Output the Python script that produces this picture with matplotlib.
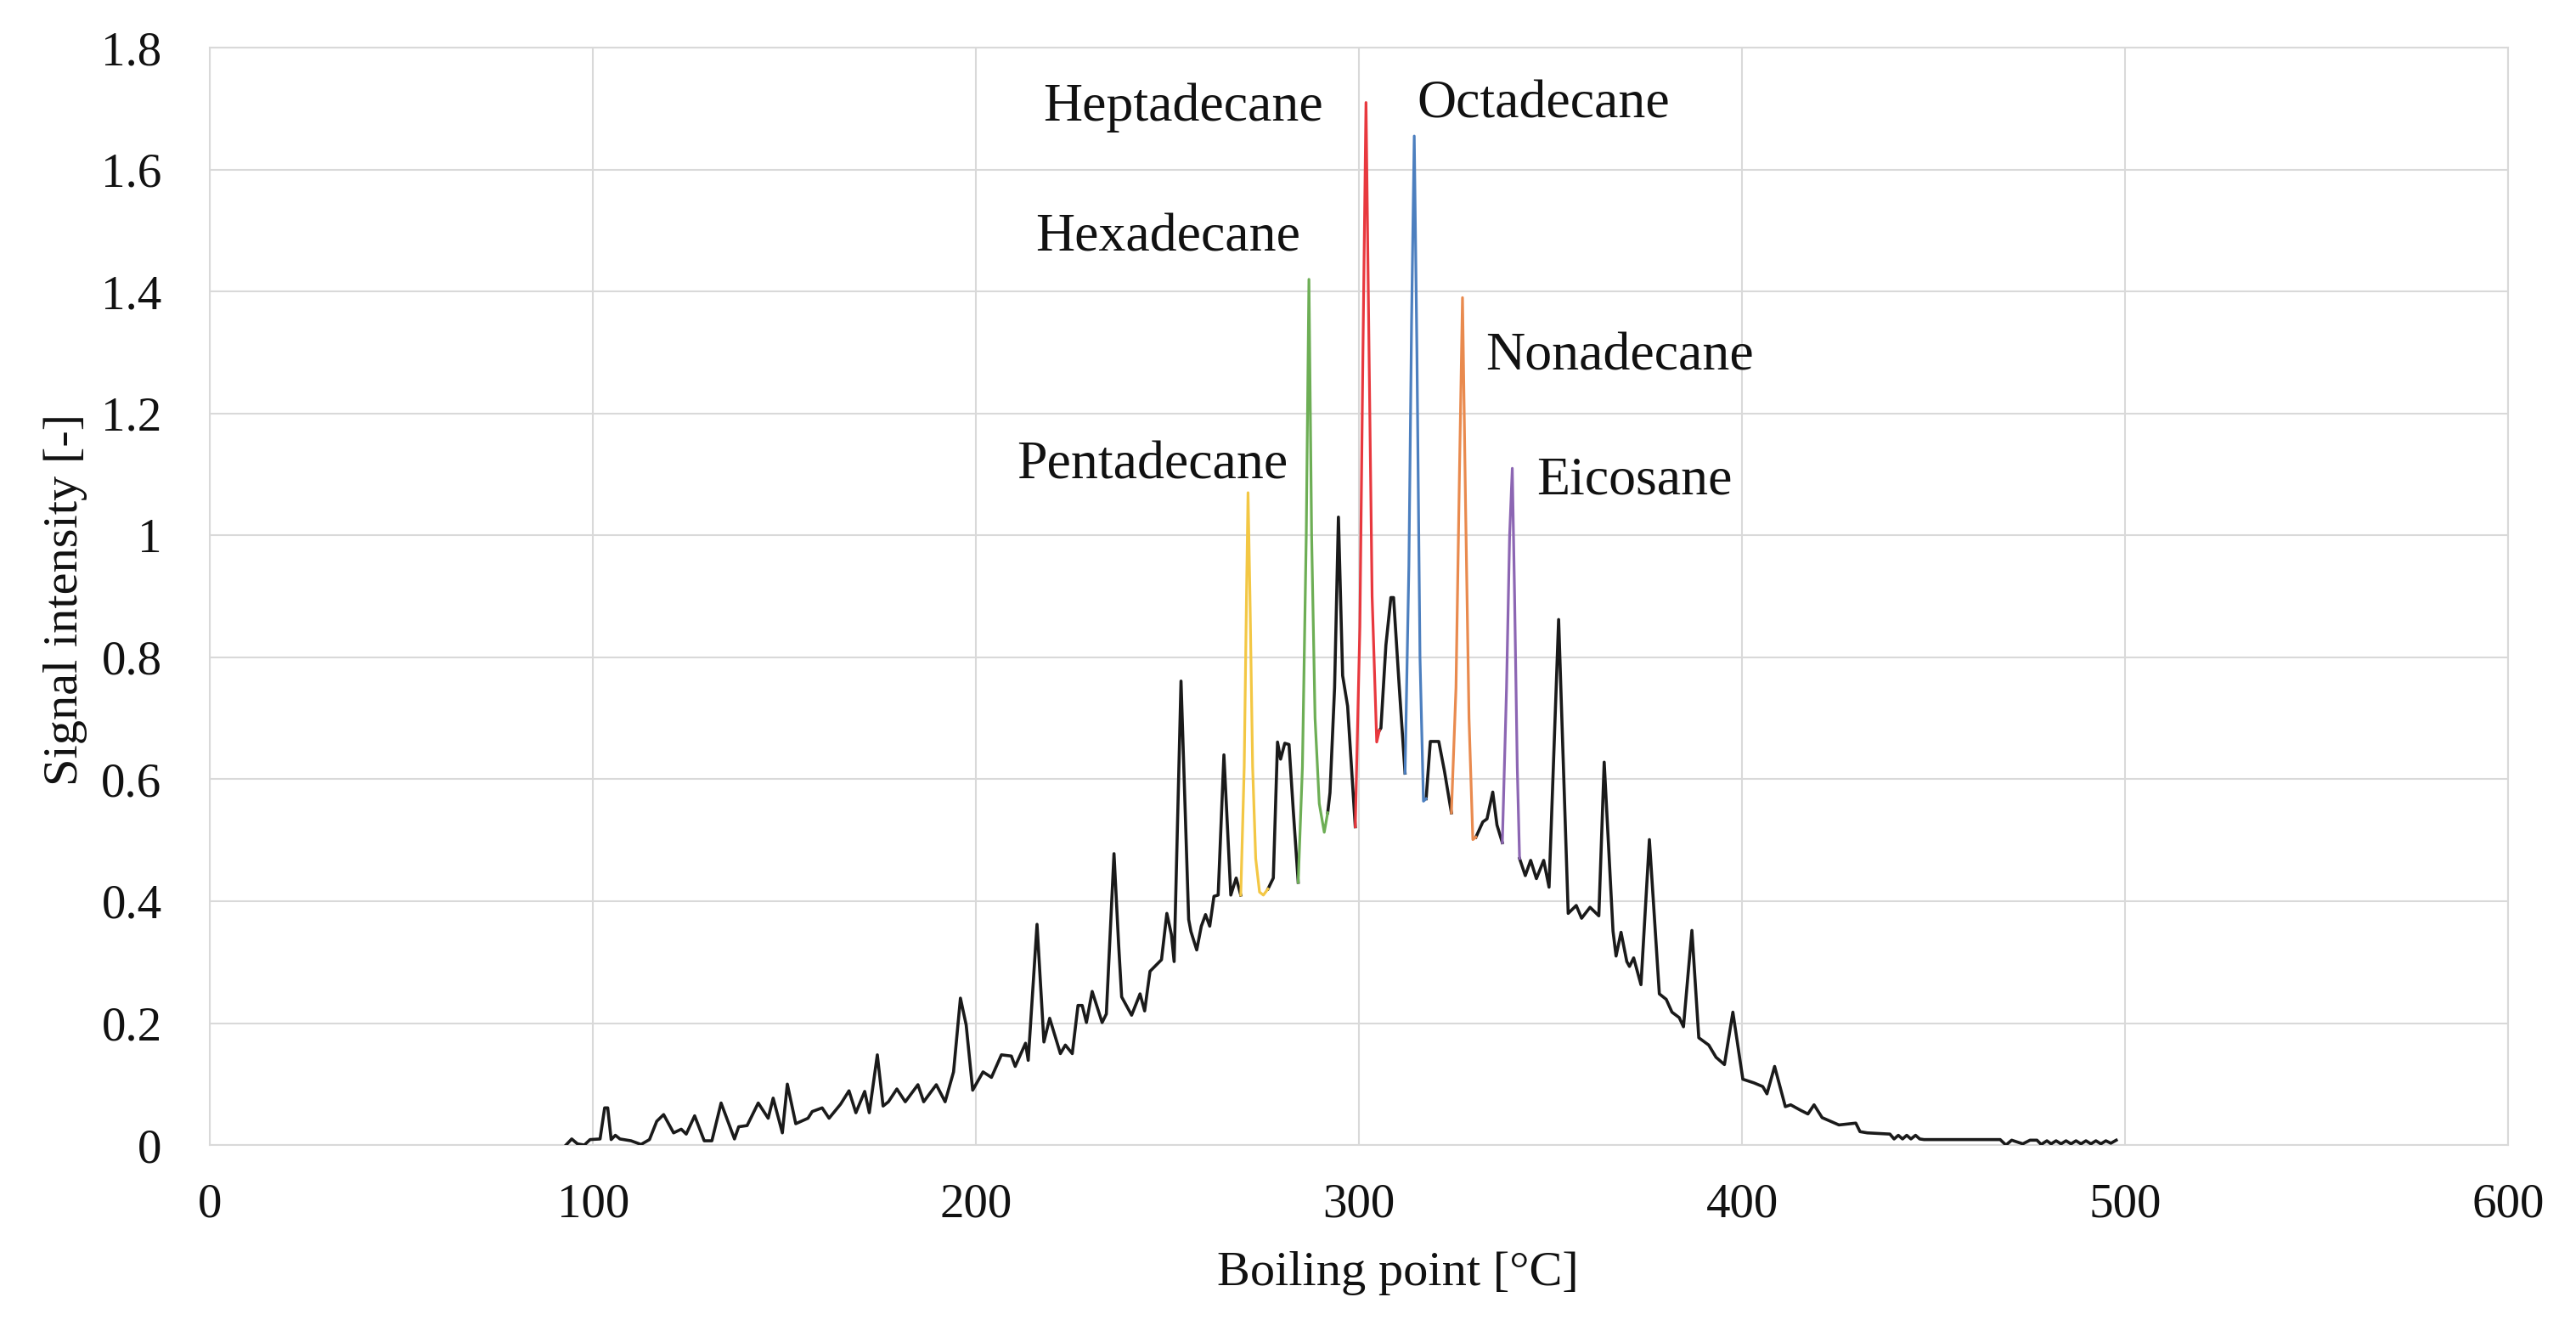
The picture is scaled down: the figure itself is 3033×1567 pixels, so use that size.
import numpy as np
import matplotlib
matplotlib.use("Agg")
from matplotlib import pyplot as plt

plt.rcParams['font.family'] = ['Liberation Serif', 'DejaVu Serif']

# ---------------------------- data ----------------------------
boiling_point = [
    92.9, 94.4, 95.9, 97.7, 99.2, 101.8, 103.0, 103.8, 104.7, 105.8, 107.0, 109.9, 112.5, 114.7,
    116.6, 118.4, 121.0, 123.0, 124.3, 126.5, 129.0, 131.0, 133.4, 136.9, 138.0, 140.2, 143.1,
    145.7, 147.0, 149.4, 150.7, 152.9, 156.1, 157.2, 159.8, 161.6, 164.6, 166.8, 168.6, 170.9,
    172.1, 174.2, 175.7, 177.1, 179.3, 181.5, 184.8, 186.3, 189.6, 191.9, 194.1, 195.9, 197.4,
    199.1, 201.8, 204.0, 206.6, 209.2, 210.2, 212.9, 213.6, 215.9, 217.7, 219.2, 222.0, 223.3,
    225.1, 226.6, 227.7, 228.8, 230.3, 232.9, 234.0, 236.0, 237.2, 238.0, 240.6, 242.8, 244.0,
    245.4, 248.4, 249.8, 251.0, 251.7, 253.5, 255.5, 256.1, 257.6, 258.8, 259.9, 261.0, 262.1,
    263.2, 264.7, 266.5, 267.9, 269.1,
    # pentadecane
    270.0, 270.6, 271.0, 271.5, 272.2, 273.0, 274.0, 275.0, 276.2,
    277.6, 278.7, 279.5, 280.6, 281.7, 282.8, 284.1,
    # hexadecane
    285.2, 286.2, 286.9, 287.6, 288.5, 289.6, 290.9, 291.8,
    292.4, 293.6, 294.6, 295.7, 297.0, 299.0,
    # heptadecane
    300.2, 301.0, 301.8, 302.6, 303.4, 304.6, 305.3,
    305.7, 307.0, 308.3, 309.0, 310.5, 312.0,
    # octadecane
    313.0, 313.7, 314.4, 315.1, 315.9, 316.8, 317.5,
    318.6, 320.8, 322.3, 324.1,
    # nonadecane
    325.3, 326.2, 327.0, 327.8, 328.7, 329.7, 330.5,
    332.3, 333.4, 334.9, 336.0, 337.4,
    # eicosane
    338.5, 339.3, 340.0, 340.6, 341.3, 341.9,
    343.4, 344.8, 346.3, 348.2, 349.6, 352.1, 354.6, 356.7, 358.1, 360.3, 362.6, 364.0,
    366.3, 367.1, 368.4, 369.9, 370.6, 371.7, 373.6, 375.8, 378.4, 380.2, 381.7, 383.6,
    384.7, 386.9, 388.7, 391.3, 393.2, 395.4, 397.6, 400.2, 403.1, 405.4, 406.5, 408.5,
    411.3, 412.7, 415.3, 417.2, 418.8, 420.9, 425.3, 429.7, 430.8, 432.7, 438.6, 439.7,
    440.8, 441.9, 443.0, 444.1, 445.3, 446.4, 447.5, 467.4, 468.9, 470.4, 473.3, 475.2,
    477.0, 478.1, 479.6, 480.7, 482.0, 483.3, 484.6, 485.9, 487.2, 488.5, 489.8, 491.1,
    492.4, 493.7, 495.0, 496.3, 497.7,
]

signal = [
    0.000, 0.010, 0.002, 0.000, 0.009, 0.010, 0.061, 0.061, 0.009, 0.016, 0.010, 0.007, 0.001, 0.009,
    0.039, 0.050, 0.020, 0.026, 0.018, 0.048, 0.007, 0.007, 0.069, 0.010, 0.030, 0.032, 0.069,
    0.044, 0.077, 0.020, 0.100, 0.035, 0.044, 0.055, 0.061, 0.044, 0.067, 0.089, 0.053, 0.088,
    0.053, 0.148, 0.064, 0.071, 0.092, 0.071, 0.099, 0.071, 0.099, 0.071, 0.120, 0.241, 0.197,
    0.090, 0.120, 0.111, 0.148, 0.146, 0.129, 0.167, 0.139, 0.362, 0.169, 0.208, 0.150, 0.164,
    0.150, 0.229, 0.229, 0.201, 0.252, 0.201, 0.215, 0.478, 0.330, 0.243, 0.213, 0.248, 0.220,
    0.285, 0.304, 0.380, 0.345, 0.301, 0.761, 0.370, 0.350, 0.320, 0.359, 0.378, 0.359, 0.408,
    0.410, 0.640, 0.410, 0.438, 0.410,
    0.620, 0.900, 1.070, 0.900, 0.620, 0.470, 0.415, 0.410, 0.420,
    0.438, 0.661, 0.633, 0.659, 0.657, 0.550, 0.431,
    0.620, 1.000, 1.420, 1.000, 0.700, 0.560, 0.513, 0.545,
    0.578, 0.750, 1.030, 0.770, 0.720, 0.522,
    0.850, 1.300, 1.710, 1.300, 0.900, 0.661, 0.680,
    0.684, 0.820, 0.898, 0.898, 0.750, 0.610,
    0.950, 1.350, 1.655, 1.300, 0.800, 0.564, 0.568,
    0.662, 0.662, 0.613, 0.545,
    0.750, 1.100, 1.390, 1.050, 0.700, 0.501, 0.505,
    0.530, 0.535, 0.579, 0.525, 0.496,
    0.750, 1.000, 1.110, 0.900, 0.620, 0.470,
    0.442, 0.467, 0.437, 0.467, 0.423, 0.862, 0.380, 0.393, 0.372, 0.390, 0.376, 0.628,
    0.351, 0.310, 0.349, 0.301, 0.293, 0.307, 0.263, 0.501, 0.248, 0.239, 0.218, 0.209,
    0.194, 0.352, 0.176, 0.164, 0.144, 0.132, 0.218, 0.108, 0.102, 0.096, 0.084, 0.129,
    0.063, 0.066, 0.057, 0.051, 0.066, 0.045, 0.033, 0.036, 0.022, 0.020, 0.018, 0.010,
    0.016, 0.010, 0.016, 0.010, 0.016, 0.010, 0.009, 0.009, 0.000, 0.008, 0.002, 0.008,
    0.008, 0.001, 0.007, 0.002, 0.007, 0.002, 0.007, 0.002, 0.007, 0.002, 0.007, 0.002,
    0.007, 0.002, 0.007, 0.003, 0.008,
]

peak_names = ['Pentadecane', 'Hexadecane', 'Heptadecane', 'Octadecane', 'Nonadecane', 'Eicosane']
peak_start = [269.1, 284.1, 299.0, 312.0, 324.1, 337.4]
peak_end = [276.2, 291.8, 305.3, 317.5, 330.5, 341.9]

# ---------------------------- styling / layout ----------------------------
peak_colors = ['#F3C744', '#6DAE55', '#E8383E', '#4C7FBF', '#E98A4E', '#8C66B3']
label_pos = [(281.4, 1.093, 'right'), (284.6, 1.466, 'right'), (290.6, 1.680, 'right'),
             (315.2, 1.685, 'left'), (333.0, 1.272, 'left'), (346.3, 1.068, 'left')]

x = np.array(boiling_point)
y = np.array(signal)

fig = plt.figure(figsize=(30.33, 15.67), dpi=100)
ax = fig.add_axes([0.0816, 0.1397, 0.8920, 0.8245])

# black trace with gaps where the labelled peaks are drawn in colour
y_black = y.copy()
for lo, hi in zip(peak_start, peak_end):
    y_black[(x > lo) & (x < hi)] = np.nan
ax.plot(x, y_black, color='#1a1a1a', lw=2.6, zorder=3)

for name, color, lo, hi, (lx, ly, ha) in zip(peak_names, peak_colors, peak_start, peak_end, label_pos):
    mask = (x >= lo) & (x <= hi)
    ax.plot(x[mask], y[mask], color=color, lw=2.3, zorder=4)
    ax.text(lx, ly, name, ha=ha, va='baseline', fontsize=46, color='#111111')

ax.set_xlim(0, 600)
ax.set_ylim(0, 1.8)
ax.set_xticks(np.arange(0, 601, 100))
ax.set_yticks(np.arange(0, 1.81, 0.2))
ax.set_yticklabels([f"{v:g}" for v in np.round(np.arange(0, 1.81, 0.2), 1)])
ax.tick_params(axis='both', length=0, labelsize=41, colors='#111111')
ax.tick_params(axis='x', pad=32)
ax.tick_params(axis='y', pad=41)

ax.grid(True, color='#D9D9D9', lw=1.5, zorder=0)
ax.set_axisbelow(True)
for side in ax.spines.values():
    side.set_color('#D9D9D9')
    side.set_linewidth(1.5)

ax.set_xlabel('Boiling point [°C]', fontsize=42, color='#111111')
ax.xaxis.set_label_coords(0.517, -0.117)
ax.xaxis.label.set_va('center')
ax.set_ylabel('Signal intensity [-]', fontsize=42, color='#111111')
ax.yaxis.set_label_coords(-0.063, 0.497)
ax.yaxis.label.set_va('center')

fig.savefig('out.png', dpi=100)
